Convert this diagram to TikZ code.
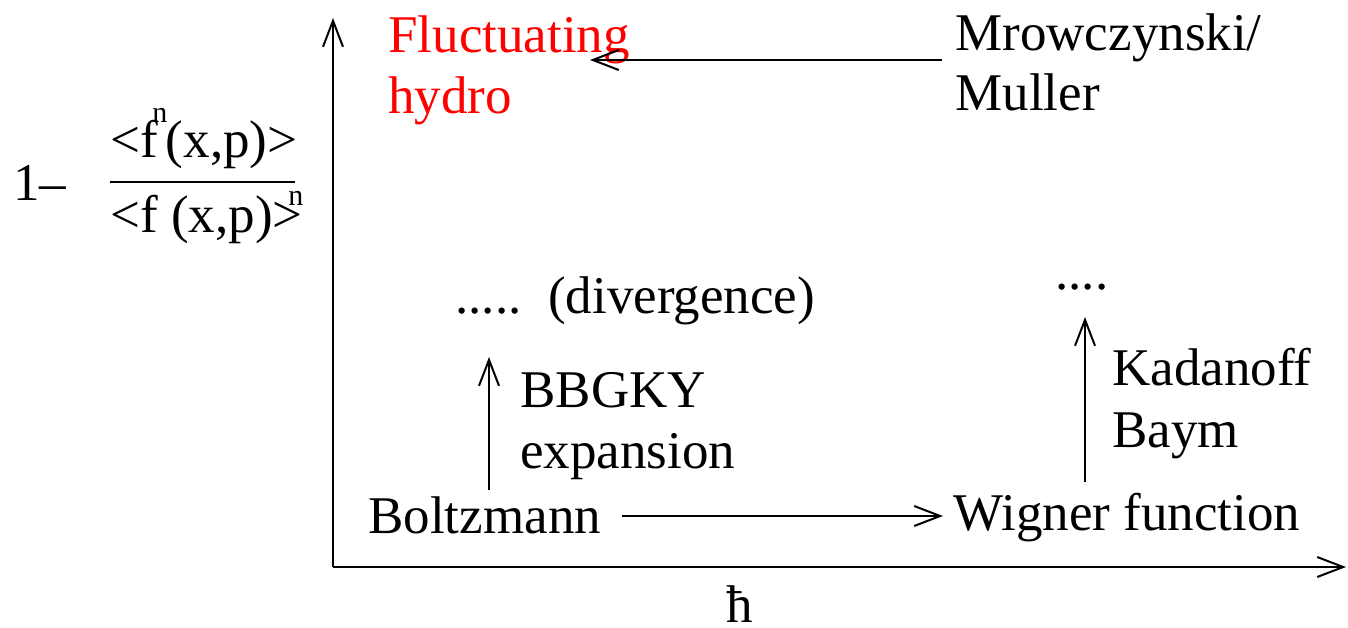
\documentclass[tikz,border=0pt]{standalone}
\usepackage{fontspec}
\setmainfont{Liberation Serif}
\usetikzlibrary{arrows.meta}
\begin{document}
\begin{tikzpicture}[x=0.5pt,y=-0.5pt,
  lbl/.style={anchor=base west,inner sep=0pt,font=\fontsize{26.5}{30}\selectfont},
  supn/.style={anchor=base west,inner sep=0pt,font=\fontsize{15}{16}\selectfont},
  arr/.style={line width=1pt,-{Straight Barb[length=13pt,width=10pt,line width=1pt]}},
  ax/.style={line width=1.2pt,-{Straight Barb[length=13pt,width=10pt,line width=1pt]}}]
\useasboundingbox (0,0) rectangle (1348,627);
% axes
\coordinate (o) at (333,567);
\coordinate (ytop) at (333,18);
\coordinate (xend) at (1346,567);
\draw[ax] (o) -- (ytop);
\draw[ax] (o) -- (xend);
\node[anchor=base,inner sep=0pt,text depth=0pt,font=\fontsize{26.5}{30}\selectfont] (hbar) at (740,622) {ħ};
% y label
\node[lbl] (one) at (13,200) {1\textendash};
\node[lbl] (num) at (110,157) {<f\kern4pt(x,p)>};
\node[supn] (numn) at (152,122) {n};
\coordinate (fl) at (110,182);
\coordinate (fr) at (295,182);
\draw[line width=1pt] (fl) -- (fr);
\node[lbl] (den) at (110,232) {<f (x,p)>};
\node[supn] (denn) at (288,205) {n};
% texts
\node[lbl,text=red] (fluc) at (388,52) {Fluctuating};
\node[lbl,text=red] (hydro) at (388,113) {hydro};
\node[lbl] (mrow) at (955,50) {Mrowczynski/};
\node[lbl] (mull) at (955,110) {Muller};
\node[lbl] (div) at (455,313) {.....\ \ (divergence)};
\node[lbl] (dots) at (1055,289) {....};
\node[lbl] (bbg) at (520,407) {BBGKY};
\node[lbl] (exp) at (520,468) {expansion};
\node[lbl] (kad) at (1112,385) {Kadanoff};
\node[lbl] (baym) at (1112,447) {Baym};
\node[lbl] (boltz) at (368,533) {Boltzmann};
\node[lbl] (wig) at (953,530) {Wigner function};
% arrows
\coordinate (m1) at (942,60);
\coordinate (m2) at (590,60);
\draw[arr] (m1) -- (m2);
\coordinate (b1) at (489,490);
\coordinate (b2) at (489,357);
\draw[arr] (b1) -- (b2);
\coordinate (k1) at (1085,482);
\coordinate (k2) at (1085,317);
\draw[arr] (k1) -- (k2);
\coordinate (w1) at (622,516);
\coordinate (w2) at (943,516);
\draw[arr] (w1) -- (w2);
\end{tikzpicture}
\end{document}
